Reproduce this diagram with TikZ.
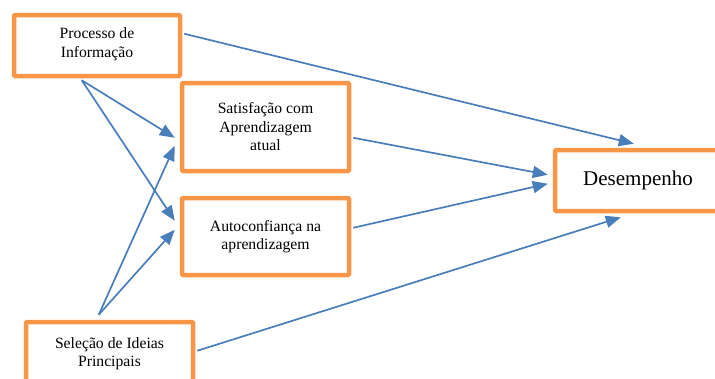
\documentclass[tikz,border=0pt]{standalone}
\usepackage{fontspec}
\setmainfont{Liberation Serif}
\usetikzlibrary{arrows.meta,calc}
\definecolor{boxorange}{HTML}{F79646}
\definecolor{arrowblue}{HTML}{4A7EBB}
\begin{document}
\begin{tikzpicture}[x=1pt,y=-1pt,
  varbox/.style={draw=boxorange,line width=4.5pt,rounded corners=1pt,fill=white,
    minimum width=#1,inner sep=0pt,align=center,
    font=\fontsize{15.7}{18.5}\selectfont},
  link/.style={draw=arrowblue,line width=1.7pt,-{Triangle[length=15pt,width=12pt]}}]
\useasboundingbox (0,0) rectangle (715,378);
\node[varbox=166pt,minimum height=61pt,text depth=6pt] (P) at (97,45.5) {Processo de\\Informação};
\node[varbox=167pt,minimum height=88pt] (S) at (265.5,127) {Satisfação com\\Aprendizagem\\atual};
\node[varbox=167pt,minimum height=77pt] (A) at (265.5,236.5) {Autoconfiança na\\aprendizagem};
\node[varbox=167pt,minimum height=63pt] (L) at (109.5,353.5) {Seleção de Ideias\\Principais};
\node[varbox=166pt,minimum height=61pt,font=\fontsize{21}{24}\selectfont] (D) at (638,180.5) {Desempenho};
\draw[link] ($(P.north east)+(2,21)$) -- ($(D.north west)+(81,-4)$);
\draw[link] ($(P.south west)+(70,2)$) -- ($(S.north west)+(-5,57)$);
\draw[link] ($(P.south west)+(70,2)$) -- ($(A.north west)+(-5,25)$);
\draw[link] ($(S.north east)+(2,57)$) -- ($(D.north west)+(-5,27)$);
\draw[link] ($(A.north east)+(2,32)$) -- ($(D.north west)+(-5,36)$);
\draw[link] ($(L.north west)+(75,-5)$) -- ($(S.north west)+(-5,65)$);
\draw[link] ($(L.north west)+(75,-5)$) -- ($(A.north west)+(-5,34)$);
\draw[link] ($(L.north east)+(2,31)$) -- ($(D.south west)+(68,4)$);
\end{tikzpicture}
\end{document}
